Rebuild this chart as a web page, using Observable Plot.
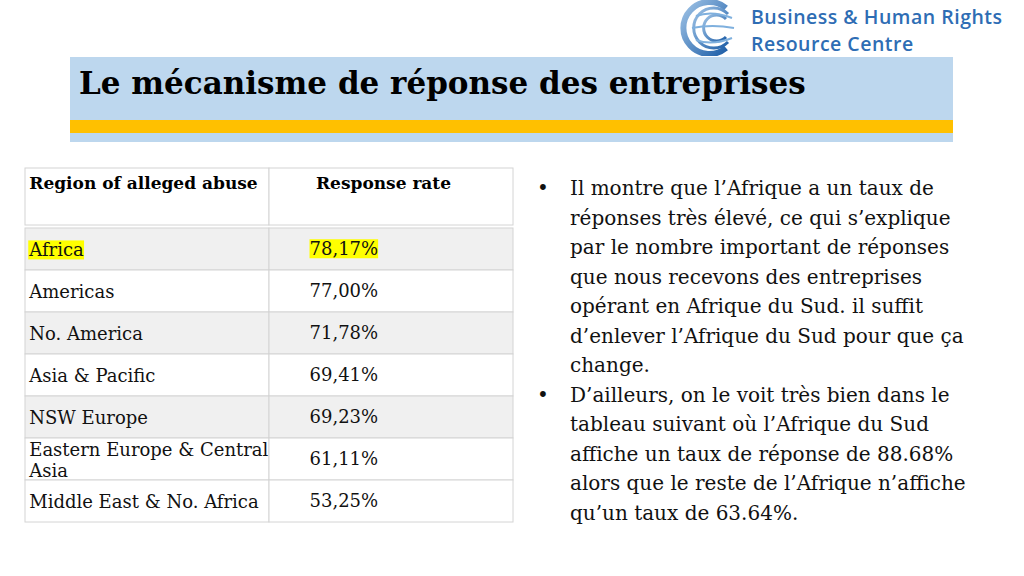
<!DOCTYPE html>
<html><head><meta charset="utf-8">
<script src="https://cdn.jsdelivr.net/npm/d3@7"></script>
<script src="https://cdn.jsdelivr.net/npm/@observablehq/plot@0.6"></script>
<style>
body{margin:0;background:#fff;}
#slide{position:relative;width:1024px;height:576px;overflow:hidden;background:#fff;font-family:"DejaVu Serif",serif;color:#111;}
#band{position:absolute;left:70px;top:57px;width:883px;height:85px;background:#bdd7ee;}
#bar{position:absolute;left:70px;top:120px;width:883px;height:13px;background:#ffc000;}
#title{position:absolute;left:79px;top:64px;font-weight:bold;font-size:31px;line-height:38px;color:#000;white-space:nowrap;margin:0;}
#logoicon{position:absolute;left:676px;top:0px;}
.logotxt{position:absolute;left:751px;top:3px;font-family:"Open Sans",sans-serif;font-weight:600;font-size:19.5px;color:#2e6db4;white-space:nowrap;line-height:27px;letter-spacing:0.5px;}
#table{position:absolute;left:24px;top:168px;}
#table svg{display:block;overflow:visible;}
#bullets{position:absolute;left:537px;top:174px;font-size:20px;line-height:29.5px;white-space:nowrap;margin:0;padding:0;list-style:none;}
#bullets li{position:relative;padding-left:33px;}
#bullets li::before{content:"•";position:absolute;left:0;top:0;}
</style></head>
<body>
<div id="slide">
  <svg id="logoicon" width="62" height="56" viewBox="0 0 62 56">
    <defs><linearGradient id="lg" x1="0" y1="0" x2="1" y2="1">
      <stop offset="0" stop-color="#9fc3e6"/><stop offset="1" stop-color="#1f5fa8"/></linearGradient></defs>
    <path d="M50 8 A26 26 0 1 0 50 48" fill="none" stroke="url(#lg)" stroke-width="6"/>
    <path d="M52 14 A20 20 0 1 0 52 42" fill="none" stroke="url(#lg)" stroke-width="3"/>
    <path d="M50 19 A13 13 0 1 0 50 37" fill="none" stroke="url(#lg)" stroke-width="3"/>
    <path d="M20 16 Q36 10 56 18" fill="none" stroke="#7fb0de" stroke-width="2"/>
    <path d="M16 28 Q36 24 58 28" fill="none" stroke="#7fb0de" stroke-width="2"/>
    <path d="M20 40 Q36 46 56 38" fill="none" stroke="#7fb0de" stroke-width="2"/>
  </svg>
  <div class="logotxt">Business &amp; Human Rights<br>Resource Centre</div>
  <div id="band"></div>
  <div id="bar"></div>
  <h1 id="title">Le mécanisme de réponse des entreprises</h1>
  <div id="table"></div>
  <ul id="bullets">
    <li>Il montre que l’Afrique a un taux de<br>réponses très élevé, ce qui s’explique<br>par le nombre important de réponses<br>que nous recevons des entreprises<br>opérant en Afrique du Sud. il suffit<br>d’enlever l’Afrique du Sud pour que ça<br>change.</li>
    <li>D’ailleurs, on le voit très bien dans le<br>tableau suivant où l’Afrique du Sud<br>affiche un taux de réponse de 88.68%<br>alors que le reste de l’Afrique n’affiche<br>qu’un taux de 63.64%.</li>
  </ul>
</div>
<script>
const headers = ["Region of alleged abuse", "Response rate"];
const regions = ["Africa", "Americas", "No. America", "Asia & Pacific", "NSW Europe", "Eastern Europe & Central Asia", "Middle East & No. Africa"];
const rates = [78.17, 77.00, 71.78, 69.41, 69.23, 61.11, 53.25];
const shadedRows = ["Africa", "No. America", "NSW Europe"];
const highlighted = ["Africa"];

const fmt = v => v.toFixed(2).replace(".", ",") + "%";
const rows = regions.map((r, i) => ({region: r, rate: rates[i]}));
const cells = rows.flatMap(d => headers.map(h => ({...d, col: h})));

const W = 489, HH = 57, BH = 300;
const font = {fontFamily: "DejaVu Serif, serif", fontSize: "18px", color: "#111", background: "transparent", overflow: "visible"};
const xOpt = {type: "band", domain: headers, padding: 0, axis: null};
const colW = W / headers.length;
const line = "#d4d4d4";

const header = Plot.plot({
  width: W, height: HH, margin: 0, style: font,
  x: xOpt, y: {axis: null},
  marks: [
    Plot.cell(headers, {x: d => d, fill: "white", stroke: line}),
    Plot.text([headers[0]], {x: d => d, frameAnchor: "top", lineAnchor: "top", dy: 8, textAnchor: "start", dx: -colW / 2 + 4, fontWeight: "bold", fontSize: 17, fill: "#000"}),
    Plot.text([headers[1]], {x: d => d, frameAnchor: "top", lineAnchor: "top", dy: 8, dx: -8, fontWeight: "bold", fontSize: 17, fill: "#000"})
  ]
});

const body = Plot.plot({
  width: W, height: BH, margin: 0, style: font,
  x: xOpt,
  y: {type: "band", domain: regions, padding: 0, axis: null},
  marks: [
    Plot.cell(cells, {x: "col", y: "region", fill: d => shadedRows.includes(d.region) ? "#f0f0f0" : "white", stroke: line}),
    Plot.text(rows, {x: () => headers[0], y: "region", text: "region", textAnchor: "start", dx: -colW / 2 + 4, lineAnchor: "middle", lineWidth: 13.5, lineHeight: 1.2, fill: "#111"}),
    Plot.text(rows, {x: () => headers[1], y: "region", text: d => fmt(d.rate), textAnchor: "start", dx: -82, lineAnchor: "middle", fill: "#111"})
  ]
});

const host = document.getElementById("table");
host.append(header, body);

// yellow highlight behind the highlighted row's texts, sized from the rendered text
const hlTexts = new Set(rows.filter(d => highlighted.includes(d.region)).flatMap(d => [d.region, fmt(d.rate)]));
body.querySelectorAll("text").forEach(t => {
  if (!hlTexts.has(t.textContent)) return;
  const b = t.getBBox();
  const r = document.createElementNS("http://www.w3.org/2000/svg", "rect");
  r.setAttribute("x", b.x); r.setAttribute("y", b.y + 1);
  r.setAttribute("width", b.width); r.setAttribute("height", b.height - 2);
  r.setAttribute("fill", "#ffff00");
  const tr = t.getAttribute("transform");
  if (tr) r.setAttribute("transform", tr);
  t.parentNode.insertBefore(r, t);
});
</script>
</body></html>
